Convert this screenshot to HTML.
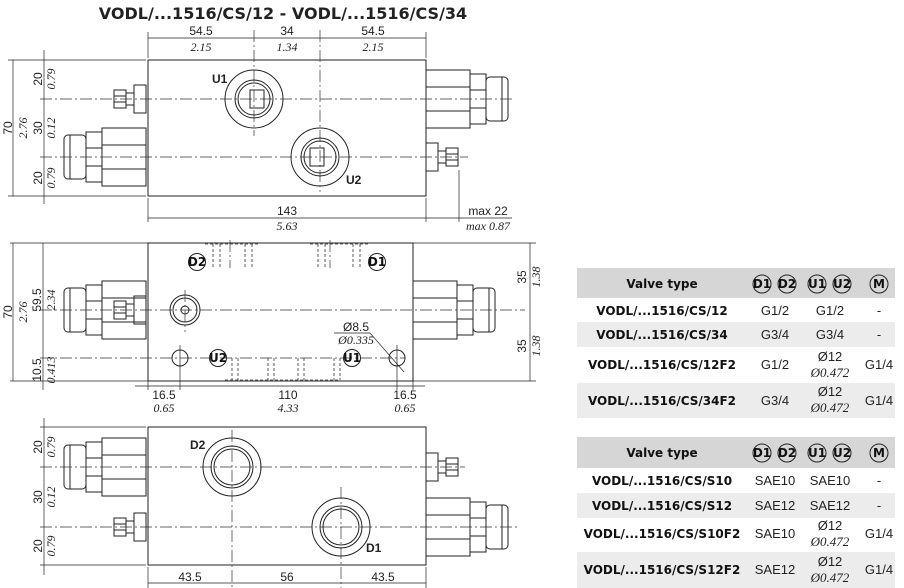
<!DOCTYPE html>
<html><head><meta charset="utf-8"><style>
body{margin:0;background:#fff;}
svg{display:block;}
.l{stroke:#222;stroke-width:1;fill:none}
.c{stroke:#333;stroke-width:.7;fill:none;stroke-dasharray:12 3 2 3}
.d{stroke:#222;stroke-width:.7;fill:none}
.h{stroke:#333;stroke-width:.8;fill:none;stroke-dasharray:3 2}
text{font-family:"Liberation Sans",sans-serif;fill:#222}
.n{font-size:12px}
.i{font-family:"Liberation Serif",serif;font-style:italic;font-size:12px}
.b{font-weight:bold;font-size:12px}
.tb{font-family:"DejaVu Sans","Liberation Sans",sans-serif;font-weight:bold;font-size:12px;fill:#111}
.tn{font-size:13px}
</style></head><body>
<svg width="904" height="588" viewBox="0 0 904 588" xmlns="http://www.w3.org/2000/svg">
<defs>
<g id="bf">
<rect x="-44" y="-29" width="44" height="58" class="l" fill="#fff"/>
<line x1="-44" y1="-12" x2="0" y2="-12" class="l"/><line x1="-44" y1="12" x2="0" y2="12" class="l"/>
<rect x="-60" y="-25" width="16" height="50" class="l"/>
<line x1="-60" y1="-9" x2="-44" y2="-9" class="l"/><line x1="-60" y1="9" x2="-44" y2="9" class="l"/>
<rect x="-82" y="-22" width="22" height="44" rx="4" class="l"/>
<line x1="-76" y1="-22" x2="-76" y2="22" class="l"/>
</g>
<g id="sv">
<rect x="-12" y="-14" width="12" height="28" class="l"/>
<rect x="-20" y="-6" width="8" height="12" class="l"/>
<rect x="-32" y="-9" width="12" height="18" class="l"/>
<line x1="-32" y1="-3" x2="-20" y2="-3" class="l"/><line x1="-32" y1="3" x2="-20" y2="3" class="l"/>
</g>
</defs>

<text x="283" y="19" text-anchor="middle" style="font-family:'DejaVu Sans',sans-serif;font-weight:bold;font-size:16px;fill:#222">VODL/...1516/CS/12 - VODL/...1516/CS/34</text>

<!-- VIEW 1 -->
<rect x="148" y="60" width="278" height="136" class="l"/>
<use href="#sv" transform="translate(146,99)"/>
<use href="#bf" transform="translate(146,157)"/>
<use href="#bf" transform="translate(426,99) scale(-1,1)"/>
<use href="#sv" transform="translate(426,157) scale(-1,1)"/>
<line x1="40" y1="99" x2="515" y2="99" class="c"/>
<line x1="40" y1="157" x2="468" y2="157" class="c"/>
<line x1="254" y1="30" x2="254" y2="136" class="c"/>
<line x1="320" y1="30" x2="320" y2="192" class="c"/>
<circle cx="254" cy="99" r="29" class="l"/><circle cx="254" cy="99" r="19" class="l"/><circle cx="254" cy="99" r="16" class="l"/>
<rect x="250" y="90" width="14" height="18" class="l"/>
<circle cx="320" cy="157" r="29" class="l"/><circle cx="320" cy="157" r="19" class="l"/><circle cx="320" cy="157" r="16" class="l"/>
<rect x="310" y="148" width="14" height="18" class="l"/>
<text x="212" y="83" class="b">U1</text><text x="346" y="184" class="b">U2</text>
<line x1="148" y1="32" x2="148" y2="58" class="d"/><line x1="426" y1="32" x2="426" y2="58" class="d"/>
<line x1="148" y1="38" x2="426" y2="38" class="d"/>
<text x="201" y="35" text-anchor="middle" class="n">54.5</text><text x="201" y="51" text-anchor="middle" class="i">2.15</text>
<text x="287" y="35" text-anchor="middle" class="n">34</text><text x="287" y="51" text-anchor="middle" class="i">1.34</text>
<text x="373" y="35" text-anchor="middle" class="n">54.5</text><text x="373" y="51" text-anchor="middle" class="i">2.15</text>
<line x1="13" y1="60" x2="13" y2="196" class="d"/><line x1="44" y1="50" x2="44" y2="204" class="d"/>
<line x1="8" y1="60" x2="146" y2="60" class="d"/><line x1="8" y1="196" x2="146" y2="196" class="d"/>
<text transform="translate(12,128) rotate(-90)" text-anchor="middle" class="n">70</text>
<text transform="translate(27,128) rotate(-90)" text-anchor="middle" class="i">2.76</text>
<text transform="translate(42,79) rotate(-90)" text-anchor="middle" class="n">20</text>
<text transform="translate(55,79) rotate(-90)" text-anchor="middle" class="i">0.79</text>
<text transform="translate(42,128) rotate(-90)" text-anchor="middle" class="n">30</text>
<text transform="translate(55,128) rotate(-90)" text-anchor="middle" class="i">0.12</text>
<text transform="translate(42,178) rotate(-90)" text-anchor="middle" class="n">20</text>
<text transform="translate(55,178) rotate(-90)" text-anchor="middle" class="i">0.79</text>
<line x1="148" y1="198" x2="148" y2="222" class="d"/><line x1="426" y1="198" x2="426" y2="222" class="d"/>
<line x1="459" y1="170" x2="459" y2="222" class="d"/>
<line x1="148" y1="218" x2="512" y2="218" class="d"/>
<text x="287" y="215" text-anchor="middle" class="n">143</text><text x="287" y="230" text-anchor="middle" class="i">5.63</text>
<text x="488" y="215" text-anchor="middle" class="n">max 22</text><text x="488" y="230" text-anchor="middle" class="i">max 0.87</text>

<!-- VIEW 2 -->
<rect x="148" y="243" width="265" height="138" class="l"/>
<use href="#bf" transform="translate(146,310)"/>
<use href="#sv" transform="translate(146,310)"/>
<use href="#bf" transform="translate(413,310) scale(-1,1)"/>
<line x1="40" y1="310" x2="525" y2="310" class="c"/>
<line x1="40" y1="358" x2="405" y2="358" class="c"/>
<line x1="230" y1="240" x2="230" y2="268" class="c"/><line x1="330" y1="240" x2="330" y2="268" class="c"/>
<path d="M213,244 v23 M220,244 v23 M245,244 v23 M252,244 v23 M318,244 v23 M325,244 v23 M353,244 v23 M360,244 v23 M205,244 h55 M310,244 h58" class="h"/>
<path d="M232,358 v22 M238,358 v22 M268,358 v22 M274,358 v22 M298,358 v22 M304,358 v22 M334,358 v22 M340,358 v22 M225,380 h115" class="h"/>
<circle cx="185" cy="310" r="15" class="l"/><circle cx="185" cy="310" r="12" class="l"/><circle cx="185" cy="310" r="4" class="l"/>
<line x1="185" y1="290" x2="185" y2="332" class="c"/>
<circle cx="180" cy="358" r="8" class="l"/><circle cx="397" cy="358" r="8" class="l"/>
<line x1="180" y1="345" x2="180" y2="390" class="d"/><line x1="397" y1="345" x2="397" y2="390" class="d"/>
<line x1="370" y1="333" x2="404" y2="372" class="d"/><line x1="334" y1="333" x2="370" y2="333" class="d"/>
<text x="356" y="331" text-anchor="middle" class="n">Ø8.5</text><text x="356" y="344" text-anchor="middle" class="i">Ø0.335</text>
<circle cx="197" cy="262" r="8.5" class="l" fill="#fff"/><text x="197" y="266" text-anchor="middle" class="tb">D2</text>
<circle cx="377" cy="262" r="8.5" class="l" fill="#fff"/><text x="377" y="266" text-anchor="middle" class="tb">D1</text>
<circle cx="218" cy="358" r="8.5" class="l" fill="#fff"/><text x="218" y="362" text-anchor="middle" class="tb">U2</text>
<circle cx="352" cy="358" r="8.5" class="l" fill="#fff"/><text x="352" y="362" text-anchor="middle" class="tb">U1</text>
<line x1="10" y1="243" x2="148" y2="243" class="d"/><line x1="10" y1="381" x2="148" y2="381" class="d"/>
<line x1="13" y1="243" x2="13" y2="381" class="d"/><line x1="43" y1="243" x2="43" y2="390" class="d"/>
<text transform="translate(12,312) rotate(-90)" text-anchor="middle" class="n">70</text>
<text transform="translate(27,312) rotate(-90)" text-anchor="middle" class="i">2.76</text>
<text transform="translate(41,300) rotate(-90)" text-anchor="middle" class="n">59.5</text>
<text transform="translate(55,300) rotate(-90)" text-anchor="middle" class="i">2.34</text>
<text transform="translate(41,370) rotate(-90)" text-anchor="middle" class="n">10.5</text>
<text transform="translate(55,370) rotate(-90)" text-anchor="middle" class="i">0.413</text>
<line x1="413" y1="243" x2="536" y2="243" class="d"/><line x1="413" y1="381" x2="536" y2="381" class="d"/>
<line x1="530" y1="243" x2="530" y2="381" class="d"/>
<text transform="translate(526,277) rotate(-90)" text-anchor="middle" class="n">35</text>
<text transform="translate(540,277) rotate(-90)" text-anchor="middle" class="i">1.38</text>
<text transform="translate(526,346) rotate(-90)" text-anchor="middle" class="n">35</text>
<text transform="translate(540,346) rotate(-90)" text-anchor="middle" class="i">1.38</text>
<line x1="148" y1="381" x2="148" y2="390" class="d"/><line x1="413" y1="381" x2="413" y2="390" class="d"/>
<line x1="135" y1="386" x2="425" y2="386" class="d"/>
<text x="164" y="399" text-anchor="middle" class="n">16.5</text><text x="164" y="412" text-anchor="middle" class="i">0.65</text>
<text x="288" y="399" text-anchor="middle" class="n">110</text><text x="288" y="412" text-anchor="middle" class="i">4.33</text>
<text x="405" y="399" text-anchor="middle" class="n">16.5</text><text x="405" y="412" text-anchor="middle" class="i">0.65</text>

<!-- VIEW 3 -->
<rect x="148" y="427" width="278" height="138" class="l"/>
<use href="#bf" transform="translate(146,467)"/>
<use href="#sv" transform="translate(146,527)"/>
<use href="#sv" transform="translate(426,467) scale(-1,1)"/>
<use href="#bf" transform="translate(426,527) scale(-1,1)"/>
<line x1="40" y1="467" x2="465" y2="467" class="c"/>
<line x1="40" y1="527" x2="518" y2="527" class="c"/>
<line x1="232" y1="430" x2="232" y2="588" class="c"/>
<line x1="341" y1="487" x2="341" y2="588" class="c"/>
<circle cx="232" cy="467" r="29" class="l"/><circle cx="232" cy="467" r="21" class="l"/><circle cx="232" cy="467" r="18" class="l"/>
<circle cx="341" cy="527" r="29" class="l"/><circle cx="341" cy="527" r="21" class="l"/><circle cx="341" cy="527" r="18" class="l"/>
<text x="190" y="449" class="b">D2</text><text x="366" y="552" class="b">D1</text>
<line x1="44" y1="418" x2="44" y2="575" class="d"/>
<line x1="40" y1="427" x2="146" y2="427" class="d"/><line x1="40" y1="565" x2="146" y2="565" class="d"/>
<text transform="translate(42,447) rotate(-90)" text-anchor="middle" class="n">20</text>
<text transform="translate(55,447) rotate(-90)" text-anchor="middle" class="i">0.79</text>
<text transform="translate(42,497) rotate(-90)" text-anchor="middle" class="n">30</text>
<text transform="translate(55,497) rotate(-90)" text-anchor="middle" class="i">0.12</text>
<text transform="translate(42,546) rotate(-90)" text-anchor="middle" class="n">20</text>
<text transform="translate(55,546) rotate(-90)" text-anchor="middle" class="i">0.79</text>
<line x1="148" y1="567" x2="148" y2="588" class="d"/><line x1="426" y1="567" x2="426" y2="588" class="d"/>
<line x1="148" y1="583" x2="426" y2="583" class="d"/>
<text x="190" y="581" text-anchor="middle" class="n">43.5</text>
<text x="287" y="581" text-anchor="middle" class="n">56</text>
<text x="383" y="581" text-anchor="middle" class="n">43.5</text>

<!-- TABLE 1 -->
<rect x="577" y="268" width="318" height="30" fill="#d6d6d6"/>
<rect x="577" y="322" width="318" height="25" fill="#ececec"/>
<rect x="577" y="383" width="318" height="35" fill="#ececec"/>
<text x="662" y="288" text-anchor="middle" class="tb">Valve type</text>
<circle cx="762" cy="284" r="9" class="l"/><text x="762" y="288" text-anchor="middle" class="tb">D1</text>
<circle cx="787" cy="284" r="9" class="l"/><text x="787" y="288" text-anchor="middle" class="tb">D2</text>
<circle cx="817" cy="284" r="9" class="l"/><text x="817" y="288" text-anchor="middle" class="tb">U1</text>
<circle cx="842" cy="284" r="9" class="l"/><text x="842" y="288" text-anchor="middle" class="tb">U2</text>
<circle cx="879" cy="284" r="9" class="l"/><text x="879" y="288" text-anchor="middle" class="tb">M</text>
<text x="662" y="315" text-anchor="middle" class="tb">VODL/...1516/CS/12</text>
<text x="775" y="315" text-anchor="middle" class="tn">G1/2</text><text x="830" y="315" text-anchor="middle" class="tn">G1/2</text><text x="879" y="315" text-anchor="middle" class="tn">-</text>
<text x="662" y="339" text-anchor="middle" class="tb">VODL/...1516/CS/34</text>
<text x="775" y="339" text-anchor="middle" class="tn">G3/4</text><text x="830" y="339" text-anchor="middle" class="tn">G3/4</text><text x="879" y="339" text-anchor="middle" class="tn">-</text>
<text x="662" y="369" text-anchor="middle" class="tb">VODL/...1516/CS/12F2</text>
<text x="775" y="369" text-anchor="middle" class="tn">G1/2</text><text x="830" y="361" text-anchor="middle" class="tn">Ø12</text><text x="830" y="377" text-anchor="middle" class="i" style="font-size:13px">Ø0.472</text><text x="879" y="369" text-anchor="middle" class="tn">G1/4</text>
<text x="662" y="405" text-anchor="middle" class="tb">VODL/...1516/CS/34F2</text>
<text x="775" y="405" text-anchor="middle" class="tn">G3/4</text><text x="830" y="396" text-anchor="middle" class="tn">Ø12</text><text x="830" y="412" text-anchor="middle" class="i" style="font-size:13px">Ø0.472</text><text x="879" y="405" text-anchor="middle" class="tn">G1/4</text>

<!-- TABLE 2 -->
<rect x="577" y="437" width="318" height="31" fill="#d6d6d6"/>
<rect x="577" y="493" width="318" height="25" fill="#ececec"/>
<rect x="577" y="552" width="318" height="36" fill="#ececec"/>
<text x="662" y="457" text-anchor="middle" class="tb">Valve type</text>
<circle cx="762" cy="453" r="9" class="l"/><text x="762" y="457" text-anchor="middle" class="tb">D1</text>
<circle cx="787" cy="453" r="9" class="l"/><text x="787" y="457" text-anchor="middle" class="tb">D2</text>
<circle cx="817" cy="453" r="9" class="l"/><text x="817" y="457" text-anchor="middle" class="tb">U1</text>
<circle cx="842" cy="453" r="9" class="l"/><text x="842" y="457" text-anchor="middle" class="tb">U2</text>
<circle cx="879" cy="453" r="9" class="l"/><text x="879" y="457" text-anchor="middle" class="tb">M</text>
<text x="662" y="485" text-anchor="middle" class="tb">VODL/...1516/CS/S10</text>
<text x="775" y="485" text-anchor="middle" class="tn">SAE10</text><text x="830" y="485" text-anchor="middle" class="tn">SAE10</text><text x="879" y="485" text-anchor="middle" class="tn">-</text>
<text x="662" y="510" text-anchor="middle" class="tb">VODL/...1516/CS/S12</text>
<text x="775" y="510" text-anchor="middle" class="tn">SAE12</text><text x="830" y="510" text-anchor="middle" class="tn">SAE12</text><text x="879" y="510" text-anchor="middle" class="tn">-</text>
<text x="662" y="538" text-anchor="middle" class="tb">VODL/...1516/CS/S10F2</text>
<text x="775" y="538" text-anchor="middle" class="tn">SAE10</text><text x="830" y="530" text-anchor="middle" class="tn">Ø12</text><text x="830" y="546" text-anchor="middle" class="i" style="font-size:13px">Ø0.472</text><text x="879" y="538" text-anchor="middle" class="tn">G1/4</text>
<text x="662" y="574" text-anchor="middle" class="tb">VODL/...1516/CS/S12F2</text>
<text x="775" y="574" text-anchor="middle" class="tn">SAE12</text><text x="830" y="566" text-anchor="middle" class="tn">Ø12</text><text x="830" y="582" text-anchor="middle" class="i" style="font-size:13px">Ø0.472</text><text x="879" y="574" text-anchor="middle" class="tn">G1/4</text>
</svg>
</body></html>
